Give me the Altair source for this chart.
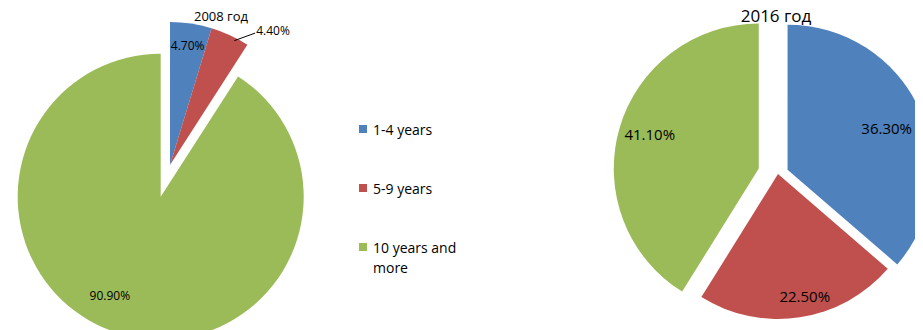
import altair as alt
import pandas as pd

# ---------------- data ----------------
categories = ["1-4 years", "5-9 years", "10 years and more"]
years = ["2008 год", "2016 год"]
values_2008 = [4.7, 4.4, 90.9]
values_2016 = [36.3, 22.5, 41.1]
legend_text = ["1-4 years", "5-9 years", "10 years and\nmore"]

# ---------------- style ----------------
colors = ["#4F81BD", "#C0504D", "#9BBB59"]
FONT = "Open Sans"
STYLE = {
    "2008 год": dict(cx=162, cy=157, r=143, explode=[0, 0, 33],
                     lab_r=[120, 157, 112], lab_shift=[0, 8, 10.6],
                     outside=[False, True, False], fs=12,
                     lead_r=140, lead_shift=2.5,
                     title_x=213, title_y=9, title_fs=13),
    "2016 год": dict(cx=770, cy=166, r=145, explode=[10.5, 0, 20],
                     lab_r=[107, 126, 114], lab_shift=[2.5, -3.6, 1],
                     outside=[False, False, False], fs=15,
                     lead_r=150, lead_shift=0,
                     title_x=768, title_y=9, title_fs=17),
}
W, H = 907, 330

rows = []
for year, vals in zip(years, [values_2008, values_2016]):
    s = STYLE[year]
    for i, (cat, v) in enumerate(zip(categories, vals)):
        rows.append(dict(year=year, category=cat, value=v, order=i,
                         cx=s["cx"], cy=s["cy"], R=s["r"],
                         explode=s["explode"][i], lr=s["lab_r"][i],
                         lshift=s["lab_shift"][i], outside=s["outside"][i],
                         fs=s["fs"], lead_r=s["lead_r"], lead_shift=s["lead_shift"]))
df = pd.DataFrame(rows)

base = (
    alt.Chart(df)
    .transform_joinaggregate(total="sum(value)", groupby=["year"])
    .transform_window(cum="sum(value)", sort=[alt.SortField("order")],
                      groupby=["year"], frame=[None, 0])
    .transform_calculate(a0="2*PI*(datum.cum - datum.value)/datum.total")
    .transform_calculate(a1="2*PI*datum.cum/datum.total")
    .transform_calculate(mid="(datum.a0 + datum.a1)/2")
    .transform_calculate(px="datum.cx + datum.explode*sin(datum.mid)")
    .transform_calculate(py="datum.cy - datum.explode*cos(datum.mid)")
    .transform_calculate(lmid="datum.mid + datum.lshift*PI/180")
    .transform_calculate(label="format(datum.value, '.2f') + '%'")
    .transform_calculate(lx="datum.px + datum.lr*sin(datum.lmid)")
    .transform_calculate(ly="datum.py - datum.lr*cos(datum.lmid)")
    .transform_calculate(smid="datum.mid + datum.lead_shift*PI/180")
    .transform_calculate(sx="datum.px + datum.lead_r*sin(datum.smid)")
    .transform_calculate(sy="datum.py - datum.lead_r*cos(datum.smid)")
)

X = lambda f: alt.X(f, type="quantitative", scale=None, axis=None)
Y = lambda f: alt.Y(f, type="quantitative", scale=None, axis=None)

color = alt.Color("category:N", scale=alt.Scale(domain=categories, range=colors), legend=None)

arcs = base.mark_arc(strokeWidth=0).encode(
    x=X("px"), y=Y("py"),
    theta=alt.Theta("a0:Q", scale=None), theta2="a1:Q",
    radius=alt.Radius("R:Q", scale=None),
    color=color,
)

inside = base.transform_filter("!datum.outside").mark_text(
    font=FONT, color="#000000", align="center", baseline="middle"
).encode(
    x=X("px"), y=Y("py"),
    theta=alt.Theta("lmid:Q", scale=None),
    radius=alt.Radius("lr:Q", scale=None),
    size=alt.Size("fs:Q", scale=None),
    text="label:N",
)

outside_lbl = base.transform_filter("datum.outside").mark_text(
    font=FONT, color="#000000", align="left", baseline="middle", dx=1, dy=-2
).encode(
    x=X("lx"), y=Y("ly"),
    size=alt.Size("fs:Q", scale=None),
    text="label:N",
)

leader = base.transform_filter("datum.outside").mark_rule(
    color="#000000", strokeWidth=1
).encode(x=X("sx"), y=Y("sy"), x2="lx:Q", y2="ly:Q")

tdf = pd.DataFrame({"year": years,
                    "tx": [STYLE[y]["title_x"] for y in years],
                    "ty": [STYLE[y]["title_y"] for y in years],
                    "tfs": [STYLE[y]["title_fs"] for y in years]})
titles = alt.Chart(tdf).mark_text(font=FONT, color="#000000", baseline="middle").encode(
    x=X("tx"), y=Y("ty"), size=alt.Size("tfs:Q", scale=None), text="year:N"
)

ldf = pd.DataFrame({"category": categories, "text": legend_text})
leg_y = alt.Y("category:N", scale=alt.Scale(domain=categories, range=[121, 239], padding=0), axis=None)
leg_sq = alt.Chart(ldf).mark_square(size=64, opacity=1, strokeWidth=0).encode(
    x=alt.value(355), y=leg_y, color=color,
)
leg_txt = alt.Chart(ldf).mark_text(
    font=FONT, fontSize=14, color="#000000", align="left", baseline="top",
    dy=-5, lineBreak="\n", lineHeight=20
).encode(
    x=alt.value(365), y=leg_y, text="text:N",
)

chart = (
    alt.layer(arcs, leader, inside, outside_lbl, titles, leg_sq, leg_txt)
    .resolve_scale(x="independent", y="independent")
    .properties(width=W, height=H, padding=0, autosize=alt.AutoSizeParams(type="none"))
    .configure_view(stroke=None)
)

chart.save("out.html", embed_options={"renderer": "svg", "actions": False})
